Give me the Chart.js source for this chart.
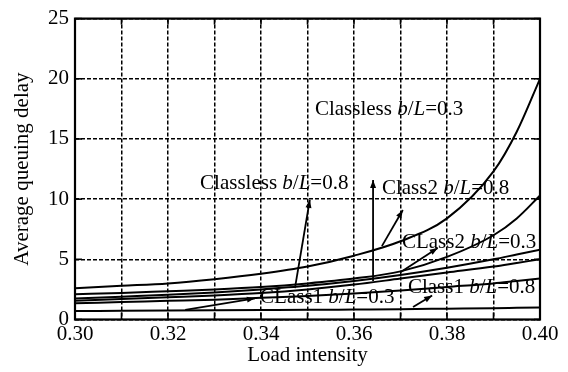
<!DOCTYPE html>
<html>
<head>
<meta charset="utf-8">
<script src="https://cdn.jsdelivr.net/npm/chart.js@4.4.0/dist/chart.umd.min.js"></script>
<style>
  html, body { margin: 0; padding: 0; background: #fff; }
  #wrap { width: 568px; height: 372px; }
</style>
</head>
<body>
<div id="wrap"><canvas id="chart" width="568" height="372"></canvas></div>
<script>
// load intensity values (x)
const loads = [0.30, 0.31, 0.32, 0.33, 0.34, 0.35, 0.36, 0.37, 0.38, 0.39, 0.395, 0.40];

// average queuing delay (top curve to bottom curve)
const class2Heavy  = [2.6, 2.8, 3.0, 3.35, 3.8, 4.4, 5.3, 6.5, 8.4, 12.3, 15.6, 20];
const classlessA   = [2.1, 2.2, 2.35, 2.5, 2.7, 3.0, 3.4, 4.0, 5.2, 7.0, 8.4, 10.3];
const class2Light  = [1.75, 1.9, 2.05, 2.25, 2.5, 2.8, 3.2, 3.7, 4.3, 5.0, 5.4, 5.8];
const classlessB   = [1.55, 1.7, 1.85, 2.0, 2.2, 2.5, 2.9, 3.4, 3.9, 4.4, 4.7, 5.0];
const class1Heavy  = [1.35, 1.45, 1.55, 1.65, 1.8, 1.95, 2.15, 2.4, 2.7, 3.0, 3.2, 3.4];
const class1Light  = [0.7, 0.72, 0.74, 0.76, 0.78, 0.8, 0.83, 0.86, 0.9, 0.94, 0.97, 1.0];

const seriesNames = ['Class2 b/L=0.8', 'Classless b/L=0.3', 'CLass2 b/L=0.3', 'Classless b/L=0.8', 'Class1 b/L=0.8', 'CLass1 b/L=0.3'];
const seriesValues = [class2Heavy, classlessA, class2Light, classlessB, class1Heavy, class1Light];

const xTicks = [0.30, 0.40, 0.01];
const yTicks = [0, 25, 5];

// curve notes: name, b/L value, text position (load, delay), arrow from -> to (load, delay)
const noteNames  = ['Classless', 'Classless', 'Class2', 'CLass2', 'CLass1', 'Class1'];
const noteRatios = ['0.3', '0.8', '0.8', '0.3', '0.3', '0.8'];
const noteX      = [0.3516, 0.3269, 0.3660, 0.3703, 0.3398, 0.3716];
const noteY      = [16.95, 10.85, 10.45, 5.9, 1.35, 2.2];
const arrowFrom  = [[0.3641, 3.2], [0.3473, 2.6], [0.3660, 6.1], [0.3699, 3.9], [0.3237, 0.8], [0.3727, 1.03]];
const arrowTo    = [[0.3641, 11.6], [0.3505, 9.95], [0.3705, 9.1], [0.3780, 5.95], [0.3387, 1.76], [0.3768, 2.0]];

const FONT = '"Liberation Serif", "Times New Roman", serif';
const FSIZE = 21;

const notesPlugin = {
  id: 'notes',
  afterDatasetsDraw(chart) {
    const { ctx, chartArea: a, scales: { x, y } } = chart;
    const line = (x0, y0, x1, y1) => { ctx.beginPath(); ctx.moveTo(x0, y0); ctx.lineTo(x1, y1); ctx.stroke(); };
    ctx.save();
    ctx.strokeStyle = '#000';
    ctx.fillStyle = '#000';
    ctx.setLineDash([]);

    // inward tick marks
    ctx.lineWidth = 1.6;
    x.ticks.forEach(t => {
      const px = x.getPixelForValue(t.value);
      line(px, a.bottom, px, a.bottom - 7);
      line(px, a.top, px, a.top + 6);
    });
    y.ticks.forEach(t => {
      const py = y.getPixelForValue(t.value);
      line(a.left, py, a.left + 7, py);
      line(a.right, py, a.right - 6, py);
    });

    // frame
    ctx.lineWidth = 2.2;
    ctx.strokeRect(a.left, a.top, a.right - a.left, a.bottom - a.top);

    // arrows
    ctx.lineWidth = 1.8;
    arrowFrom.forEach((f, i) => {
      const x0 = x.getPixelForValue(f[0]), y0 = y.getPixelForValue(f[1]);
      const x1 = x.getPixelForValue(arrowTo[i][0]), y1 = y.getPixelForValue(arrowTo[i][1]);
      line(x0, y0, x1, y1);
      const ang = Math.atan2(y1 - y0, x1 - x0);
      ctx.beginPath();
      ctx.moveTo(x1, y1);
      ctx.lineTo(x1 - 8 * Math.cos(ang) + 3 * Math.sin(ang), y1 - 8 * Math.sin(ang) - 3 * Math.cos(ang));
      ctx.lineTo(x1 - 8 * Math.cos(ang) - 3 * Math.sin(ang), y1 - 8 * Math.sin(ang) + 3 * Math.cos(ang));
      ctx.closePath();
      ctx.fill();
    });

    // note texts
    ctx.textBaseline = 'alphabetic';
    ctx.textAlign = 'left';
    noteNames.forEach((name, i) => {
      let px = x.getPixelForValue(noteX[i]);
      const py = y.getPixelForValue(noteY[i]);
      const parts = [[name + ' ', false], ['b', true], ['/', false], ['L', true], ['=' + noteRatios[i], false]];
      parts.forEach(([txt, italic]) => {
        ctx.font = (italic ? 'italic ' : '') + FSIZE + 'px ' + FONT;
        ctx.fillText(txt, px, py);
        px += ctx.measureText(txt).width;
      });
    });
    ctx.restore();
  }
};

new Chart(document.getElementById('chart'), {
  type: 'line',
  data: {
    datasets: seriesValues.map((vals, i) => ({
      label: seriesNames[i],
      data: loads.map((l, j) => ({ x: l, y: vals[j] })),
      borderColor: '#000',
      borderWidth: 2,
      pointRadius: 0,
      fill: false,
      cubicInterpolationMode: 'monotone'
    }))
  },
  options: {
    responsive: false,
    animation: false,
    layout: { padding: { top: 15, right: 28, left: 0, bottom: 0 } },
    plugins: { legend: { display: false }, tooltip: { enabled: false } },
    scales: {
      x: {
        type: 'linear',
        min: xTicks[0],
        max: xTicks[1],
        afterFit: s => { s.height = 52.5; },
        grid: { color: '#000', lineWidth: 1.5, drawTicks: false },
        border: { display: false, dash: [4, 2] },
        ticks: {
          stepSize: xTicks[2],
          autoSkip: false,
          maxRotation: 0,
          padding: 2,
          color: '#000',
          font: { family: FONT, size: FSIZE },
          callback: (v, i) => (i % 2 === 0 ? Number(v).toFixed(2) : '')
        },
        title: {
          display: true,
          text: 'Load intensity',
          color: '#000',
          font: { family: FONT, size: FSIZE },
          padding: { top: 0, bottom: 4 }
        }
      },
      y: {
        min: yTicks[0],
        max: yTicks[1],
        afterFit: s => { s.width = 75; },
        grid: { color: '#000', lineWidth: 1.5, drawTicks: false },
        border: { display: false, dash: [4, 2] },
        ticks: {
          stepSize: yTicks[2],
          padding: 6,
          color: '#000',
          font: { family: FONT, size: FSIZE }
        },
        title: {
          display: true,
          text: 'Average queuing delay',
          color: '#000',
          font: { family: FONT, size: FSIZE },
          padding: { top: 10, bottom: 0 }
        }
      }
    }
  },
  plugins: [notesPlugin]
});
</script>
</body>
</html>
